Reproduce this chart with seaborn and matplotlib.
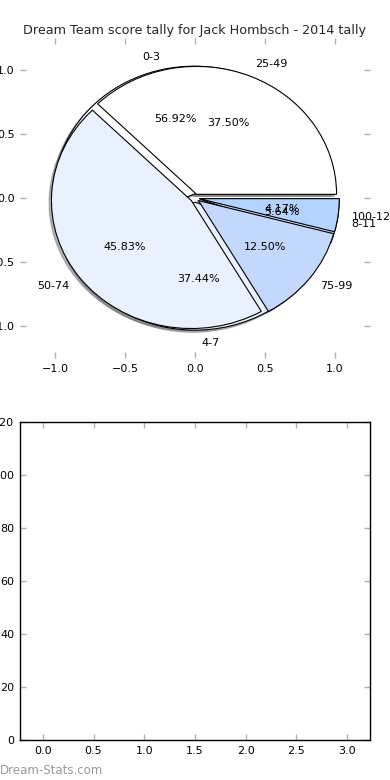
import matplotlib
matplotlib.use("Agg")
import matplotlib.pyplot as plt
import seaborn as sns

title = "Dream Team score tally for Jack Hombsch - 2014 tally"
low_labels = ["0-3", "4-7", "8-11"]
low_counts = [111, 73, 11]
high_labels = ["25-49", "50-74", "75-99", "100-124"]
high_counts = [9, 11, 3, 1]
pie_colors = ["#ffffff", "#eaf1fe", "#c4d8fe", "#b3d4ff"]
pie_ticks = [-1.0, -0.5, 0.0, 0.5, 1.0]
bottom_xticks = [0.0, 0.5, 1.0, 1.5, 2.0, 2.5, 3.0]
bottom_yticks = [0, 20, 40, 60, 80, 100, 120]

sns.set_theme(style="white")
plt.rcParams['font.family'] = ['DejaVu Sans']

fig = plt.figure(figsize=(3.9, 7.8), dpi=100)
fig.patch.set_facecolor("white")
ax1 = fig.add_axes([0.0513, 0.541, 0.897, 0.410])
ax2 = fig.add_axes([0.0513, 0.0513, 0.897, 0.408])

wp = dict(edgecolor="black", linewidth=0.8)
tp = dict(fontsize=8, color="black")
shadow = dict(ox=-0.012, oy=-0.012, shade=0.55)
ax1.pie(low_counts, labels=low_labels, colors=pie_colors[:3],
        explode=[0.032] * len(low_counts), autopct="%1.2f%%", shadow=shadow,
        wedgeprops=wp, textprops=tp)
ax1.pie(high_counts, labels=high_labels, colors=pie_colors,
        explode=[0.032] * len(high_counts), autopct="%1.2f%%", shadow=shadow,
        wedgeprops=wp, textprops=tp)
ax1.set_aspect("auto")
ax1.set_xlim(-1.25, 1.25)
ax1.set_ylim(-1.25, 1.25)
ax1.set_xticks(pie_ticks)
ax1.set_yticks(pie_ticks)
ax1.set_frame_on(False)
ax1.set_title(title, fontsize=9.2, pad=3)

for ax in (ax1, ax2):
    ax.tick_params(axis="both", which="major", direction="in", length=4,
                   width=1, color="#b0b0b0", labelsize=8, labelcolor="black",
                   top=True, right=True, bottom=True, left=True, pad=4)

ax2.set_xlim(-0.225, 3.225)
ax2.set_ylim(0, 120)
ax2.set_xticks(bottom_xticks)
ax2.set_yticks(bottom_yticks)
for s in ax2.spines.values():
    s.set_color("black")
    s.set_linewidth(1.0)
    s.set_visible(True)

fig.text(0.0, 0.0128, "Dream-Stats.com", color="#999999", fontsize=8.5,
         ha="left", va="center")

fig.savefig("out.png", dpi=100, facecolor="white")
